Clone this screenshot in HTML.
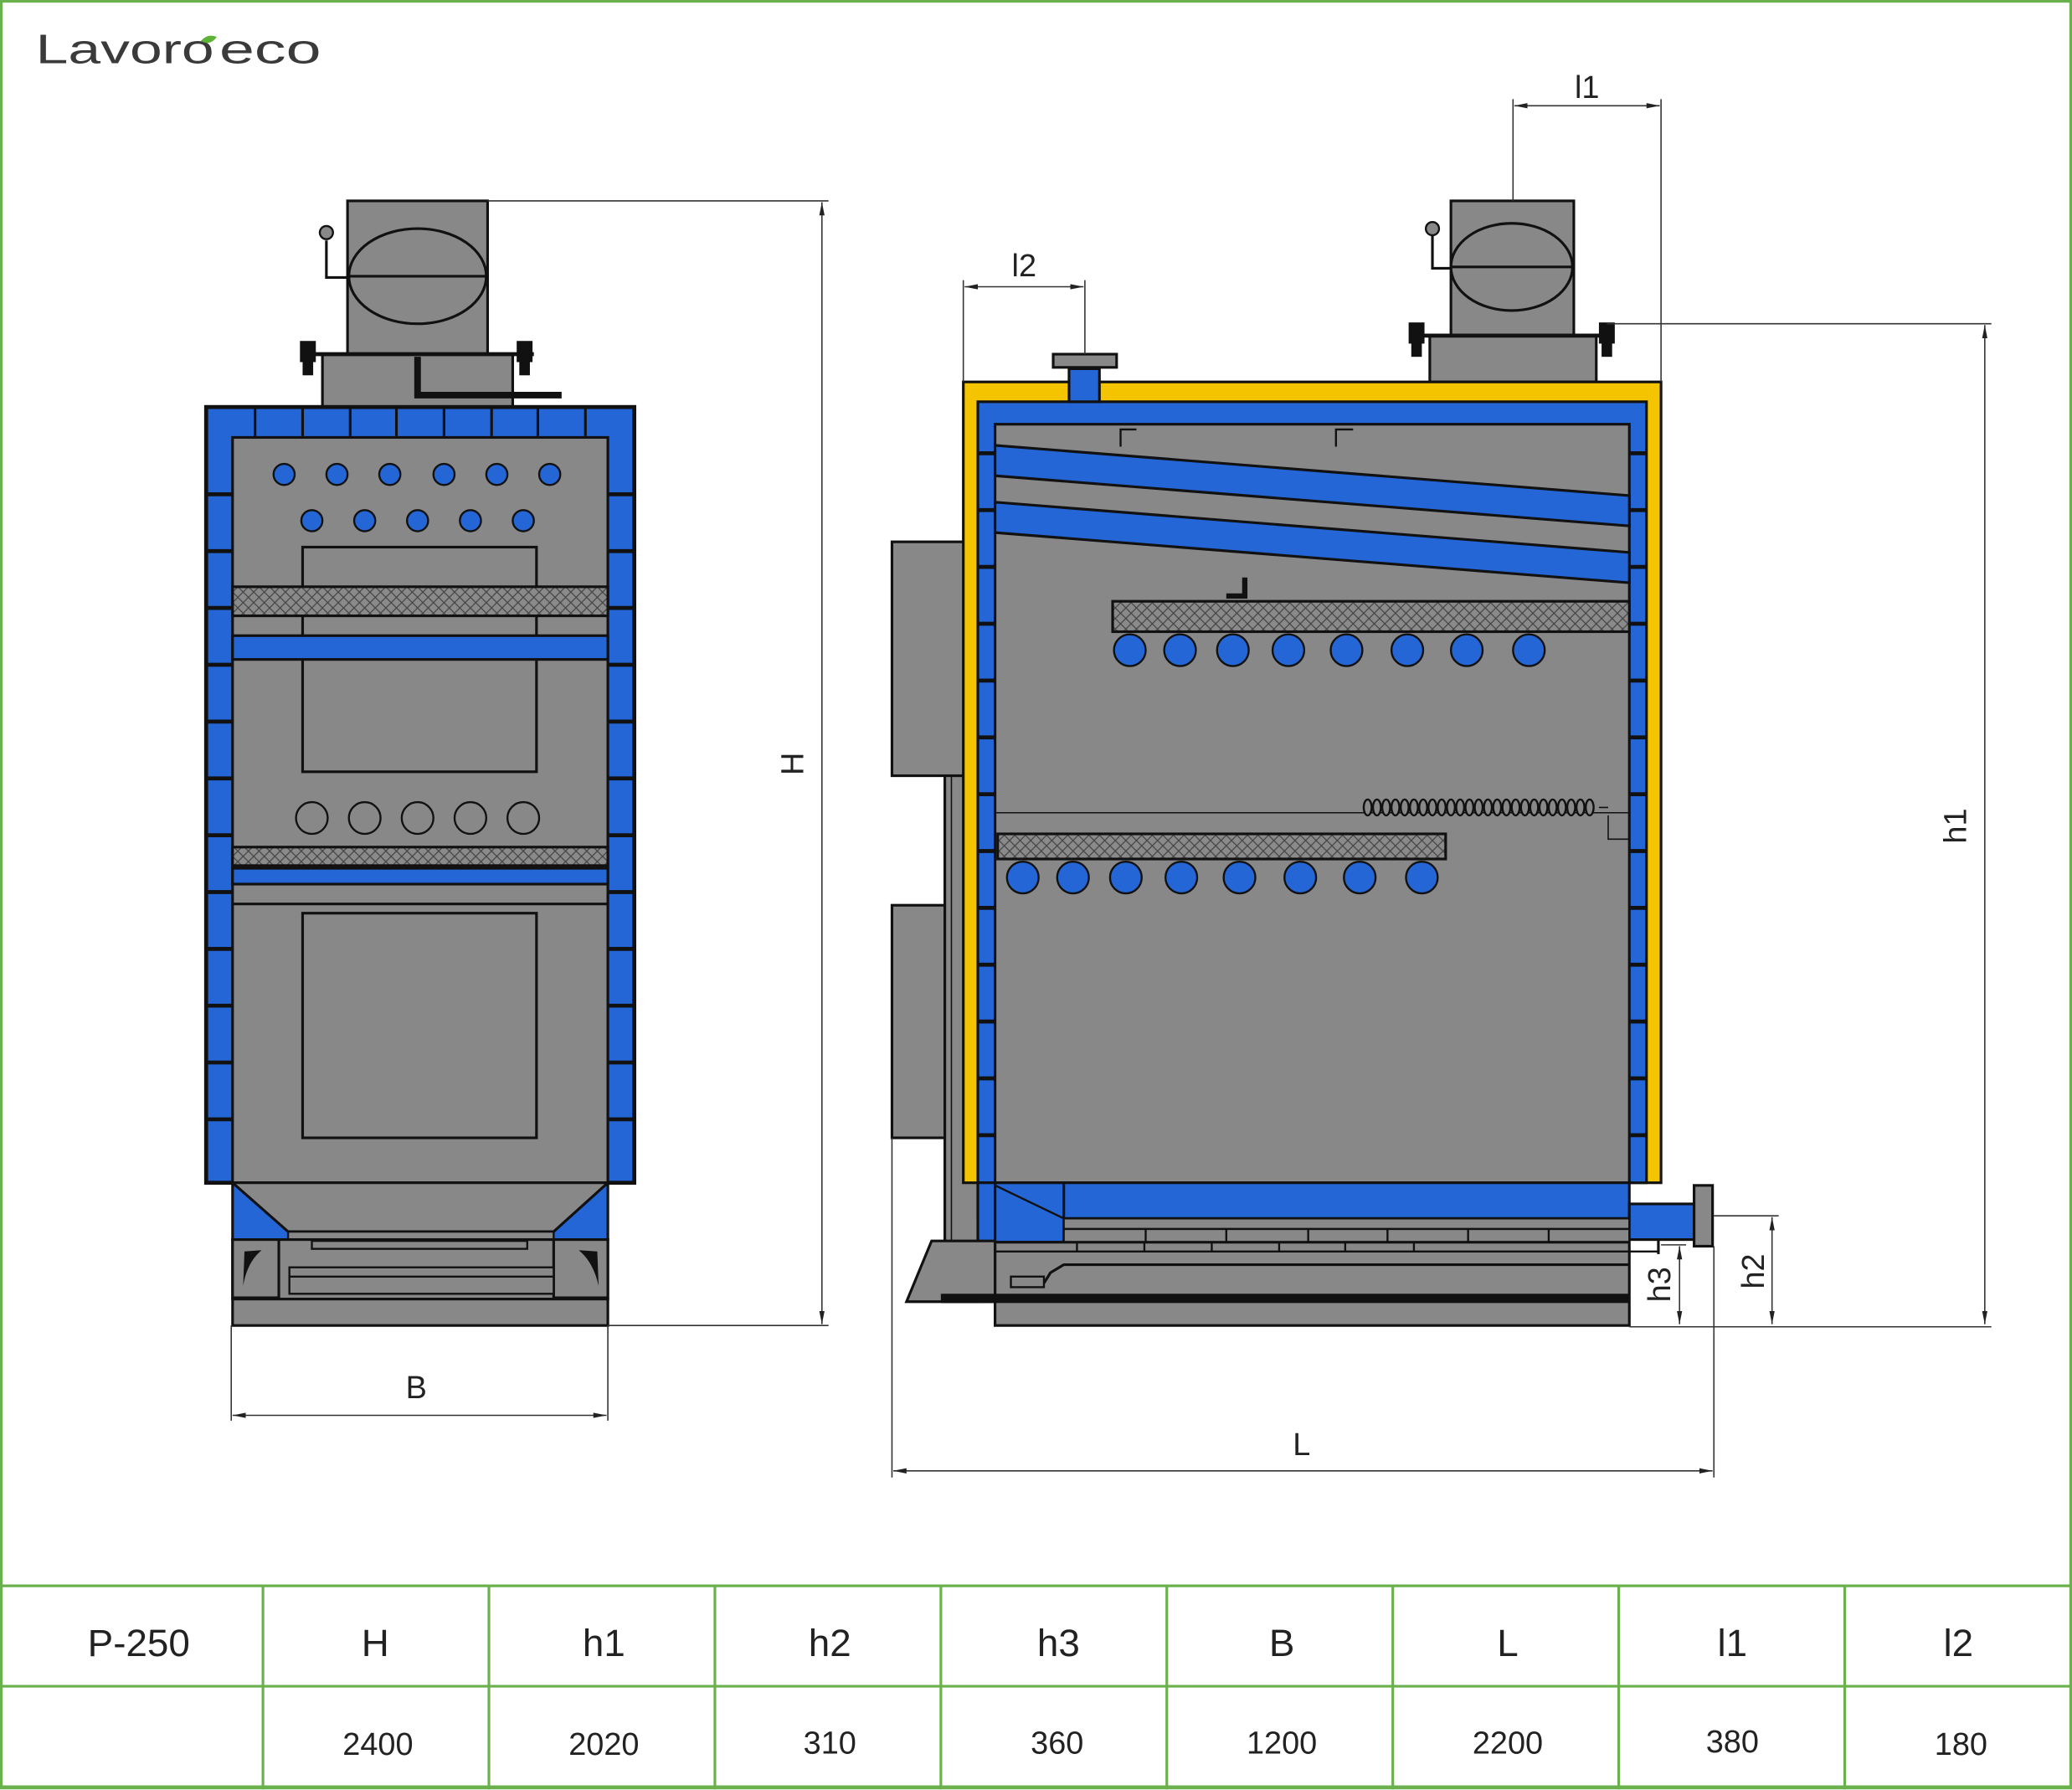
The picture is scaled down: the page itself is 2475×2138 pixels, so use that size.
<!DOCTYPE html>
<html><head><meta charset="utf-8"><style>
html,body{margin:0;padding:0;background:#fff}
svg{display:block}
text{font-family:"Liberation Sans",sans-serif;fill:#222}
</style></head><body>
<svg width="2475" height="2138" viewBox="0 0 1568 1354.5" preserveAspectRatio="none" xmlns="http://www.w3.org/2000/svg">
<defs>
<pattern id="hx" width="8" height="8" patternUnits="userSpaceOnUse">
<rect width="8" height="8" fill="#8a8a8a"/>
<path d="M0 0L8 8M8 0L0 8" stroke="#444" stroke-width="0.8"/>
</pattern>
<marker id="ar" markerWidth="10" markerHeight="6" refX="10" refY="3" orient="auto-start-reverse" markerUnits="userSpaceOnUse"><path d="M0 1L10 3L0 5z" fill="#222"/></marker>
</defs>
<rect x="1" y="1" width="1566" height="1352" fill="#fff" stroke="#6ab04c" stroke-width="2"/>
<!-- logo -->
<text x="27" y="48" font-size="31" style="fill:#3a3a3a" textLength="135" lengthAdjust="spacingAndGlyphs">Lavoro</text>
<text x="166" y="48" font-size="31" style="fill:#3a3a3a" textLength="77" lengthAdjust="spacingAndGlyphs">eco</text>
<path d="M152 31 Q157 25 164 28 Q159 35 152 31z" fill="#5cb338"/>

<g stroke="#111" stroke-width="2">
<!-- LEFT VIEW -->
<rect x="263" y="152" width="106" height="116" fill="#888889"/>
<ellipse cx="316" cy="209" rx="52" ry="36" fill="#888889"/>
<line x1="263" y1="209" x2="369" y2="209"/>
<polyline points="247,182 247,210 263,210" fill="none"/>
<circle cx="247" cy="176" r="5" fill="#888889" stroke-width="1.5"/>
<rect x="244" y="268" width="144" height="40" fill="#888889"/>
<line x1="232" y1="268" x2="404" y2="268" stroke-width="3"/>
<rect x="228" y="259" width="10" height="14" fill="#111"/><rect x="230" y="273" width="6" height="10" fill="#111"/>
<rect x="392" y="259" width="10" height="14" fill="#111"/><rect x="394" y="273" width="6" height="10" fill="#111"/>
<polyline points="316,270 316,299 425,299" fill="none" stroke-width="5"/>
<rect x="156" y="308" width="324" height="587" fill="#2466d6" stroke-width="3"/>
<rect x="176" y="331" width="284" height="564" fill="#888889"/>
<g stroke-width="2">
<line x1="193" y1="308" x2="193" y2="331"/><line x1="229" y1="308" x2="229" y2="331"/><line x1="265" y1="308" x2="265" y2="331"/><line x1="300" y1="308" x2="300" y2="331"/><line x1="336" y1="308" x2="336" y2="331"/><line x1="372" y1="308" x2="372" y2="331"/><line x1="407" y1="308" x2="407" y2="331"/><line x1="443" y1="308" x2="443" y2="331"/>
</g>
<g stroke-width="3">
<path d="M156 374h20M156 417h20M156 460h20M156 503h20M156 546h20M156 589h20M156 632h20M156 675h20M156 718h20M156 761h20M156 804h20M156 847h20"/>
<path d="M460 374h20M460 417h20M460 460h20M460 503h20M460 546h20M460 589h20M460 632h20M460 675h20M460 718h20M460 761h20M460 804h20M460 847h20"/>
</g>
<g fill="#2466d6" stroke-width="1.5">
<circle cx="215" cy="359" r="8"/><circle cx="255" cy="359" r="8"/><circle cx="295" cy="359" r="8"/><circle cx="336" cy="359" r="8"/><circle cx="376" cy="359" r="8"/><circle cx="416" cy="359" r="8"/>
<circle cx="236" cy="394" r="8"/><circle cx="276" cy="394" r="8"/><circle cx="316" cy="394" r="8"/><circle cx="356" cy="394" r="8"/><circle cx="396" cy="394" r="8"/>
</g>
<rect x="229" y="414" width="177" height="170" fill="none"/>
<rect x="176" y="444" width="284" height="22" fill="url(#hx)"/>
<rect x="176" y="481" width="284" height="18" fill="#2466d6"/>
<g fill="none" stroke-width="1.5">
<circle cx="236" cy="619" r="12"/><circle cx="276" cy="619" r="12"/><circle cx="316" cy="619" r="12"/><circle cx="356" cy="619" r="12"/><circle cx="396" cy="619" r="12"/>
</g>
<rect x="176" y="641" width="284" height="14" fill="url(#hx)"/>
<rect x="176" y="657" width="284" height="12" fill="#2466d6"/>
<line x1="176" y1="684" x2="460" y2="684"/>
<rect x="229" y="691" width="177" height="170" fill="none"/>
<!-- hopper -->
<rect x="176" y="895" width="284" height="43" fill="#2466d6"/>
<polygon points="176,895 460,895 419,932 218,932" fill="#888889"/>
<rect x="218" y="932" width="201" height="6" fill="#888889" stroke-width="1.5"/>
<rect x="176" y="938" width="284" height="45" fill="#888889"/>
<rect x="176" y="938" width="35" height="44" fill="#888889"/><rect x="419" y="938" width="41" height="44" fill="#888889"/>
<path d="M184 973 L185 947 L198 946 Q187 955 184 973z M453 973 L452 947 L438 946 Q449 955 453 973z" fill="#111" stroke="none"/>
<rect x="236" y="939" width="163" height="6" fill="#888889" stroke-width="1.5"/>
<rect x="219" y="959" width="200" height="20" fill="#888889" stroke-width="1.5"/>
<line x1="219" y1="966" x2="419" y2="966" stroke-width="1.5"/>
<rect x="176" y="983" width="284" height="20" fill="#888889"/>

<!-- RIGHT VIEW -->
<rect x="1098" y="152" width="93" height="102" fill="#888889"/>
<ellipse cx="1144" cy="202" rx="46" ry="33" fill="#888889"/>
<line x1="1098" y1="202" x2="1191" y2="202"/>
<polyline points="1084,178 1084,203 1098,203" fill="none"/>
<circle cx="1084" cy="173" r="5" fill="#888889" stroke-width="1.5"/>
<rect x="1082" y="254" width="126" height="35" fill="#888889"/>
<line x1="1072" y1="254" x2="1218" y2="254" stroke-width="3"/>
<rect x="1067" y="245" width="10" height="14" fill="#111"/><rect x="1069" y="259" width="6" height="10" fill="#111"/>
<rect x="1211" y="245" width="10" height="14" fill="#111"/><rect x="1213" y="259" width="6" height="10" fill="#111"/>
<rect x="675" y="410" width="65" height="177" fill="#888889"/>
<rect x="675" y="685" width="65" height="176" fill="#888889"/>
<rect x="715" y="587" width="25" height="398" fill="#888889"/>
<line x1="720" y1="587" x2="720" y2="985" stroke-width="1"/>
<rect x="729" y="289" width="528" height="606" fill="#f5c400"/>
<rect x="740" y="304" width="506" height="591" fill="#2466d6"/>
<rect x="753" y="321" width="480" height="574" fill="#888889"/>
<g stroke-width="3">
<path d="M740 343h13M740 386h13M740 429h13M740 472h13M740 515h13M740 558h13M740 601h13M740 644h13M740 687h13M740 730h13M740 773h13M740 816h13M740 859h13"/>
<path d="M1233 343h13M1233 386h13M1233 429h13M1233 472h13M1233 515h13M1233 558h13M1233 601h13M1233 644h13M1233 687h13M1233 730h13M1233 773h13M1233 816h13M1233 859h13"/>
</g>
<rect x="809" y="279" width="23" height="25" fill="#2466d6"/>
<rect x="797" y="268" width="48" height="10" fill="#888889"/>
<path d="M848 338V325h12M1011 338V325h13" fill="none" stroke-width="1.5"/>
<polygon points="753,337 1233,375 1233,398 753,360" fill="#2466d6"/>
<polygon points="753,380 1233,418 1233,441 753,403" fill="#2466d6"/>
<path d="M928 451h14v-14" fill="none" stroke-width="4"/>
<rect x="842" y="455" width="391" height="23" fill="url(#hx)"/>
<g fill="#2466d6" stroke-width="1.5">
<circle cx="855" cy="492" r="12"/><circle cx="893" cy="492" r="12"/><circle cx="933" cy="492" r="12"/><circle cx="975" cy="492" r="12"/><circle cx="1019" cy="492" r="12"/><circle cx="1065" cy="492" r="12"/><circle cx="1110" cy="492" r="12"/><circle cx="1157" cy="492" r="12"/>
</g>
<line x1="753" y1="615" x2="1233" y2="615" stroke-width="1"/>
<g fill="#888889" stroke-width="1.5">
<ellipse cx="1035" cy="611" rx="3" ry="6"/><ellipse cx="1042" cy="611" rx="3" ry="6"/><ellipse cx="1049" cy="611" rx="3" ry="6"/><ellipse cx="1056" cy="611" rx="3" ry="6"/><ellipse cx="1063" cy="611" rx="3" ry="6"/><ellipse cx="1070" cy="611" rx="3" ry="6"/><ellipse cx="1077" cy="611" rx="3" ry="6"/><ellipse cx="1084" cy="611" rx="3" ry="6"/><ellipse cx="1091" cy="611" rx="3" ry="6"/><ellipse cx="1098" cy="611" rx="3" ry="6"/><ellipse cx="1105" cy="611" rx="3" ry="6"/><ellipse cx="1112" cy="611" rx="3" ry="6"/><ellipse cx="1119" cy="611" rx="3" ry="6"/><ellipse cx="1126" cy="611" rx="3" ry="6"/><ellipse cx="1133" cy="611" rx="3" ry="6"/><ellipse cx="1140" cy="611" rx="3" ry="6"/><ellipse cx="1147" cy="611" rx="3" ry="6"/><ellipse cx="1154" cy="611" rx="3" ry="6"/><ellipse cx="1161" cy="611" rx="3" ry="6"/><ellipse cx="1168" cy="611" rx="3" ry="6"/><ellipse cx="1175" cy="611" rx="3" ry="6"/><ellipse cx="1182" cy="611" rx="3" ry="6"/><ellipse cx="1189" cy="611" rx="3" ry="6"/><ellipse cx="1196" cy="611" rx="3" ry="6"/><ellipse cx="1203" cy="611" rx="3" ry="6"/>
</g>
<path d="M1210 611h7M1217 617v18h16" fill="none" stroke-width="1"/>
<rect x="755" y="631" width="339" height="19" fill="url(#hx)"/>
<g fill="#2466d6" stroke-width="1.5">
<circle cx="774" cy="664" r="12"/><circle cx="812" cy="664" r="12"/><circle cx="852" cy="664" r="12"/><circle cx="894" cy="664" r="12"/><circle cx="938" cy="664" r="12"/><circle cx="984" cy="664" r="12"/><circle cx="1029" cy="664" r="12"/><circle cx="1076" cy="664" r="12"/>
</g>
<rect x="740" y="895" width="493" height="27" fill="#2466d6"/>
<rect x="740" y="895" width="65" height="45" fill="#2466d6"/>
<line x1="753" y1="897" x2="805" y2="922" stroke-width="1.5"/>
<line x1="753" y1="895" x2="753" y2="940"/>
<rect x="1233" y="911" width="49" height="27" fill="#2466d6"/>
<rect x="1282" y="897" width="14" height="46" fill="#888889"/>
<rect x="805" y="922" width="428" height="8" fill="#888889" stroke-width="1.5"/>
<rect x="805" y="930" width="428" height="10" fill="#888889" stroke-width="1.5"/>
<path d="M867 930v10M928 930v10M990 930v10M1050 930v10M1111 930v10M1172 930v10" stroke-width="1.5"/>
<rect x="753" y="940" width="480" height="63" fill="#888889"/>
<path d="M753 947h502M815 940v7M866 940v7M917 940v7M968 940v7M1018 940v7M1070 940v7" stroke-width="1.5" fill="none"/>
<path d="M1255 937v12" stroke-width="2"/>
<path d="M790 971 L795 963 L805 957 H1233" fill="none" stroke-width="2"/>
<rect x="765" y="966" width="25" height="8" fill="#888889" stroke-width="1.5"/>
<polygon points="705,939 753,939 753,985 686,985" fill="#888889"/>
<rect x="712" y="979" width="521" height="7" fill="#111" stroke="none"/>
</g>

<!-- DIMENSIONS -->
<g stroke="#333" stroke-width="1" fill="none">
<path d="M369 152H627M460 1003H627"/>
<line x1="622" y1="153" x2="622" y2="1002" marker-start="url(#ar)" marker-end="url(#ar)"/>
<path d="M175 1003V1075M460 1003V1075"/>
<line x1="176" y1="1071" x2="459" y2="1071" marker-start="url(#ar)" marker-end="url(#ar)"/>
<path d="M1145 75V152M1257 75V289"/>
<line x1="1146" y1="80" x2="1256" y2="80" marker-start="url(#ar)" marker-end="url(#ar)"/>
<path d="M729 212V289M821 212V268"/>
<line x1="730" y1="217" x2="820" y2="217" marker-start="url(#ar)" marker-end="url(#ar)"/>
<path d="M1216 245H1507M1233 1004H1507"/>
<line x1="1502" y1="246" x2="1502" y2="1002" marker-start="url(#ar)" marker-end="url(#ar)"/>
<path d="M1297 920H1346"/>
<line x1="1341" y1="921" x2="1341" y2="1002" marker-start="url(#ar)" marker-end="url(#ar)"/>
<path d="M1257 942H1276"/>
<line x1="1271" y1="943" x2="1271" y2="1002" marker-start="url(#ar)" marker-end="url(#ar)"/>
<path d="M675 861V1118M1297 943V1118"/>
<line x1="676" y1="1113" x2="1296" y2="1113" marker-start="url(#ar)" marker-end="url(#ar)"/>
</g>
<g font-size="24">
<text x="600" y="578" text-anchor="middle" transform="rotate(-90 600 578)" dy="8">H</text>
<text x="315" y="1058" text-anchor="middle">B</text>
<text x="1201" y="74" text-anchor="middle">l1</text>
<text x="775" y="209" text-anchor="middle">l2</text>
<text x="1480" y="625" text-anchor="middle" transform="rotate(-90 1480 625)" dy="8">h1</text>
<text x="1327" y="962" text-anchor="middle" transform="rotate(-90 1327 962)" dy="8">h2</text>
<text x="1256" y="972" text-anchor="middle" transform="rotate(-90 1256 972)" dy="8">h3</text>
<text x="985" y="1101" text-anchor="middle">L</text>
</g>

<!-- TABLE -->
<g stroke="#6ab04c" stroke-width="2" fill="none">
<path d="M1 1200H1567M1 1276H1567M1 1352H1567"/>
<path d="M199 1200V1354M370 1200V1354M541 1200V1354M712 1200V1354M883 1200V1354M1054 1200V1354M1225 1200V1354M1396 1200V1354"/>
</g>
<g font-size="29" text-anchor="middle">
<text x="105" y="1253">P-250</text>
<text x="284" y="1253">H</text>
<text x="457" y="1253">h1</text>
<text x="628" y="1253">h2</text>
<text x="801" y="1253">h3</text>
<text x="970" y="1253">B</text>
<text x="1141" y="1253">L</text>
<text x="1311" y="1253">l1</text>
<text x="1482" y="1253">l2</text>
</g>
<g font-size="24" text-anchor="middle">
<text x="286" y="1328">2400</text>
<text x="457" y="1328">2020</text>
<text x="628" y="1327">310</text>
<text x="800" y="1327">360</text>
<text x="970" y="1327">1200</text>
<text x="1141" y="1327">2200</text>
<text x="1311" y="1326">380</text>
<text x="1484" y="1328">180</text>
</g>
</svg>
</body></html>
